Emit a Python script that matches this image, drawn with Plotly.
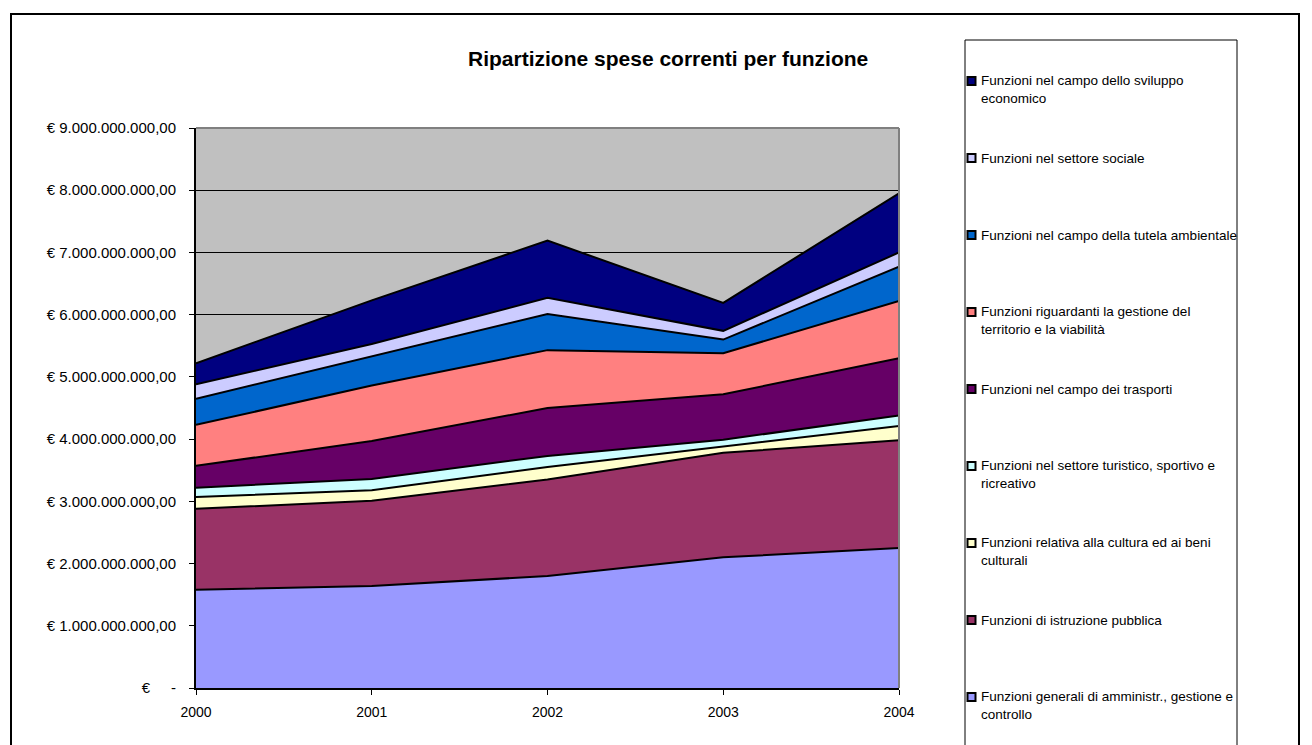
import plotly.graph_objects as go

# Annual current expenditure by function (euro), one list per function
years = ["2000", "2001", "2002", "2003", "2004"]

generali_amministrazione = [1.58e9, 1.64e9, 1.80e9, 2.10e9, 2.25e9]
istruzione_pubblica = [1.30e9, 1.37e9, 1.55e9, 1.68e9, 1.73e9]
cultura_beni_culturali = [0.19e9, 0.17e9, 0.20e9, 0.10e9, 0.23e9]
turistico_sportivo = [0.15e9, 0.18e9, 0.18e9, 0.11e9, 0.17e9]
trasporti = [0.35e9, 0.61e9, 0.77e9, 0.73e9, 0.92e9]
territorio_viabilita = [0.66e9, 0.89e9, 0.93e9, 0.66e9, 0.92e9]
tutela_ambientale = [0.42e9, 0.47e9, 0.58e9, 0.22e9, 0.55e9]
settore_sociale = [0.23e9, 0.20e9, 0.26e9, 0.14e9, 0.23e9]
sviluppo_economico = [0.34e9, 0.70e9, 0.92e9, 0.45e9, 0.95e9]

series_names = [
    "Funzioni generali di amministr., gestione e<br>controllo",
    "Funzioni di istruzione pubblica",
    "Funzioni relativa alla cultura ed ai beni<br>culturali",
    "Funzioni nel settore turistico, sportivo e<br>ricreativo",
    "Funzioni nel campo dei trasporti",
    "Funzioni riguardanti la gestione del<br>territorio e la viabilità",
    "Funzioni nel campo della tutela ambientale",
    "Funzioni nel settore sociale",
    "Funzioni nel campo dello sviluppo<br>economico",
]
series_values = [
    generali_amministrazione,
    istruzione_pubblica,
    cultura_beni_culturali,
    turistico_sportivo,
    trasporti,
    territorio_viabilita,
    tutela_ambientale,
    settore_sociale,
    sviluppo_economico,
]
series_colors = [
    "#9999FF", "#993366", "#FFFFCC", "#CCFFFF", "#660066",
    "#FF8080", "#0066CC", "#CCCCFF", "#000080",
]

y_ticks = [i * 1e9 for i in range(10)]


def euro_label(v):
    if v == 0:
        return "€" + "\u00a0" * 5 + "-"
    s = f"{int(v):,}".replace(",", ".")
    return f"€ {s},00"


y_ticktext = [euro_label(v) for v in y_ticks]

# Canvas geometry (pixels) and helpers to convert to paper coordinates
W_FIG, H_FIG = 1312, 745
PL, PR, PT, PB = 196, 899, 128, 688


def px(x):
    return (x - PL) / (PR - PL)


def py(y):
    return (PB - y) / (PB - PT)


FONT = "Liberation Sans, Arial, sans-serif"

fig = go.Figure()
for name, vals, col in zip(series_names, series_values, series_colors):
    fig.add_trace(go.Scatter(
        x=years, y=vals, name=name.replace("<br>", " "),
        stackgroup="spese", mode="lines",
        line=dict(color="black", width=2),
        fillcolor=col, showlegend=False, hoverinfo="x+y+name",
    ))

shapes = []
annotations = []

# Outer chart frame
shapes.append(dict(type="rect", xref="paper", yref="paper",
                   x0=px(11), x1=px(1299), y0=py(14), y1=py(760),
                   line=dict(color="black", width=2), layer="below"))
# Plot area border (top and right sides)
shapes.append(dict(type="line", xref="paper", yref="paper",
                   x0=0, x1=1, y0=1, y1=1,
                   line=dict(color="#808080", width=2), layer="above"))
shapes.append(dict(type="line", xref="paper", yref="paper",
                   x0=1, x1=1, y0=0, y1=1,
                   line=dict(color="#808080", width=2), layer="above"))

# Legend box
shapes.append(dict(type="rect", xref="paper", yref="paper",
                   x0=px(965), x1=px(1237), y0=py(40), y1=py(760),
                   line=dict(color="black", width=1), layer="below"))

# Legend entries, listed top to bottom in reverse stacking order
legend_top = 81
legend_step = 77
for i, idx in enumerate(range(len(series_names) - 1, -1, -1)):
    yc = legend_top + i * legend_step
    shapes.append(dict(type="rect", xref="paper", yref="paper",
                       x0=px(967.5), x1=px(975.5), y0=py(yc - 4), y1=py(yc + 4),
                       fillcolor=series_colors[idx],
                       line=dict(color="black", width=2), layer="above"))
    name = series_names[idx]
    n_lines = name.count("<br>") + 1
    annotations.append(dict(
        xref="paper", yref="paper", x=px(979), y=py(yc + (n_lines - 1) * 8.5),
        xanchor="left", yanchor="middle", align="left", showarrow=False,
        text=name, font=dict(family=FONT, size=13.5, color="black"),
    ))

# Chart title
annotations.append(dict(
    xref="paper", yref="paper", x=px(668), y=py(58),
    xanchor="center", yanchor="middle", showarrow=False,
    text="<b>Ripartizione spese correnti per funzione</b>",
    font=dict(family=FONT, size=21, color="black"),
))

fig.update_layout(
    width=W_FIG, height=H_FIG,
    margin=dict(l=PL, r=W_FIG - PR, t=PT, b=H_FIG - PB, pad=0),
    paper_bgcolor="white", plot_bgcolor="#C0C0C0",
    shapes=shapes, annotations=annotations,
    showlegend=False,
    xaxis=dict(
        type="category", range=[0, 4], showgrid=False, zeroline=False,
        showline=True, linecolor="black", linewidth=2,
        ticks="outside", ticklen=5, tickcolor="black", tickwidth=1,
        tickfont=dict(family=FONT, size=14, color="black"),
        ticklabelstandoff=5,
    ),
    yaxis=dict(
        range=[0, 9e9], tickvals=y_ticks, ticktext=y_ticktext,
        showgrid=True, gridcolor="black", gridwidth=1, zeroline=False,
        showline=True, linecolor="black", linewidth=2,
        ticks="outside", ticklen=5, tickcolor="black", tickwidth=1,
        tickfont=dict(family=FONT, size=15, color="black"),
        ticklabelstandoff=10,
    ),
)

fig.write_html("out.html")
